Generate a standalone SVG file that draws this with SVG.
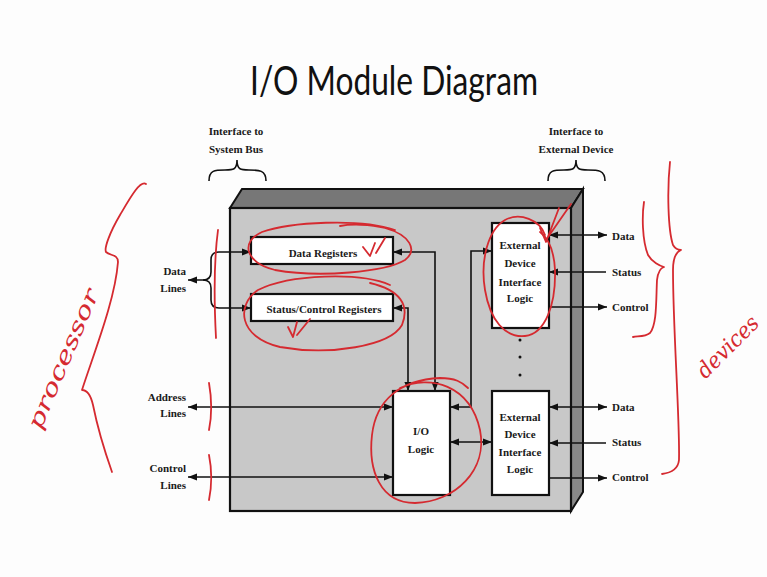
<svg xmlns="http://www.w3.org/2000/svg" width="767" height="577" viewBox="0 0 767 577">
  <defs>
    <marker id="arrow" viewBox="0 0 10 8" refX="10" refY="4" markerWidth="9" markerHeight="8" markerUnits="userSpaceOnUse" orient="auto-start-reverse">
      <path d="M0,0 L10,4 L0,8 z" fill="#111"/>
    </marker>
    <style>
      .lbl { font-family: "Liberation Serif", "Times New Roman", serif; font-weight: bold; font-size: 11px; fill: #1a1a1a; }
      .mid { text-anchor: middle; }
      .end { text-anchor: end; }
      .box { fill: #ffffff; stroke: #111; stroke-width: 2.2; }
      .wire { fill: none; stroke: #111; stroke-width: 1.6; }
      .arr { marker-end: url(#arrow); }
      .arr2 { marker-start: url(#arrow); marker-end: url(#arrow); }
      .brace { fill: none; stroke: #111; stroke-width: 1.6; }
      .pen { fill: none; stroke: #d52a30; stroke-width: 1.8; stroke-linecap: round; stroke-linejoin: round; }
      .hand { font-family: "DejaVu Serif", "Liberation Serif", serif; font-style: italic; fill: #d52a30; }
    </style>
  </defs>

  <rect x="0" y="0" width="767" height="577" fill="#fdfdfd"/>

  <!-- title -->
  <text x="394" y="95" text-anchor="middle" font-family="Lato, 'Open Sans', sans-serif" font-size="41" fill="#111" textLength="288" lengthAdjust="spacingAndGlyphs">I/O Module Diagram</text>

  <!-- interface captions with braces -->
  <g id="sysbus-caption">
    <text class="lbl mid" x="236" y="135">Interface to</text>
    <text class="lbl mid" x="236" y="153">System Bus</text>
    <path class="brace" d="M209,181 C209,170 215,170 225,170 C233,170 237,170 237,160 C237,170 241,170 249,170 C259,170 266,170 266,181"/>
  </g>
  <g id="extdev-caption">
    <text class="lbl mid" x="576" y="135">Interface to</text>
    <text class="lbl mid" x="576" y="153">External Device</text>
    <path class="brace" d="M548,181 C548,170 554,170 564,170 C572,170 576,170 576,160 C576,170 580,170 588,170 C598,170 605,170 605,181"/>
  </g>

  <!-- module housing (3-D box) -->
  <g id="module">
    <polygon points="230,208 242,189 583,189 571,208" fill="#777" stroke="#111" stroke-width="2"/>
    <polygon points="571,208 583,189 583,492 571,511" fill="#888" stroke="#111" stroke-width="2"/>
    <rect x="230" y="208" width="341" height="303" fill="#c8c8c8" stroke="#111" stroke-width="2.2"/>
  </g>

  <!-- connectors -->
  <g id="connectors">
    <!-- data lines fork -->
    <path class="wire" d="M251,252 H219 Q211,252 211,260 V272 Q211,280 203,280 H188" marker-start="url(#arrow)" marker-end="url(#arrow)"/>
    <path class="wire" d="M251,308 H219 Q211,308 211,300 V288 Q211,280 203,280" marker-start="url(#arrow)"/>
    <!-- registers to I/O logic -->
    <path class="wire arr2" d="M393,252 H435 V391"/>
    <path class="wire arr2" d="M393,308 H408 V391"/>
    <!-- address and control lines -->
    <path class="wire arr2" d="M188,407 H393"/>
    <path class="wire arr2" d="M188,477 H393"/>
    <!-- I/O logic to device interfaces -->
    <path class="wire arr2" d="M450,407 H471 V251 H492"/>
    <path class="wire arr2" d="M450,442 H492"/>
    <!-- device 1 external signals -->
    <path class="wire arr2" d="M549,235 H607"/>
    <path class="wire arr" d="M606,272 H549"/>
    <path class="wire arr" d="M549,307 H607"/>
    <!-- device 2 external signals -->
    <path class="wire arr2" d="M549,407 H607"/>
    <path class="wire arr" d="M606,443 H549"/>
    <path class="wire arr" d="M549,478 H607"/>
  </g>

  <g id="data-registers">
    <rect class="box" x="251" y="237" width="142" height="27"/>
    <text class="lbl mid" x="323" y="257">Data Registers</text>
  </g>
  <g id="status-control-registers">
    <rect class="box" x="251" y="294" width="142" height="27"/>
    <text class="lbl mid" x="324" y="313">Status/Control Registers</text>
  </g>
  <g id="io-logic">
    <rect class="box" x="393" y="391" width="57" height="104"/>
    <text class="lbl mid" x="421" y="435">I/O</text>
    <text class="lbl mid" x="421" y="453">Logic</text>
  </g>
  <g id="ext-device-1">
    <rect class="box" x="492" y="223" width="57" height="105"/>
    <text class="lbl mid" x="520" y="249">External</text>
    <text class="lbl mid" x="520" y="267">Device</text>
    <text class="lbl mid" x="520" y="286">Interface</text>
    <text class="lbl mid" x="520" y="302">Logic</text>
  </g>
  <g id="ext-device-2">
    <rect class="box" x="492" y="391" width="57" height="104"/>
    <text class="lbl mid" x="520" y="421">External</text>
    <text class="lbl mid" x="520" y="438">Device</text>
    <text class="lbl mid" x="520" y="456">Interface</text>
    <text class="lbl mid" x="520" y="473">Logic</text>
  </g>
  <g id="ellipsis">
    <circle cx="520" cy="340" r="1.5" fill="#111"/>
    <circle cx="520" cy="357" r="1.5" fill="#111"/>
    <circle cx="520" cy="375" r="1.5" fill="#111"/>
  </g>

  <!-- bus-side labels -->
  <g id="bus-labels">
    <text class="lbl end" x="186" y="275">Data</text>
    <text class="lbl end" x="186" y="292">Lines</text>
    <text class="lbl end" x="186" y="401">Address</text>
    <text class="lbl end" x="186" y="417">Lines</text>
    <text class="lbl end" x="186" y="472">Control</text>
    <text class="lbl end" x="186" y="489">Lines</text>
  </g>
  <!-- device-side labels -->
  <g id="device-labels">
    <text class="lbl" x="612" y="240">Data</text>
    <text class="lbl" x="612" y="276">Status</text>
    <text class="lbl" x="612" y="311">Control</text>
    <text class="lbl" x="612" y="411">Data</text>
    <text class="lbl" x="612" y="446">Status</text>
    <text class="lbl" x="612" y="481">Control</text>
  </g>

  <!-- red pen notes -->
  <g id="pen-notes">
    <path class="pen" d="M395,230 C360,218 290,222 262,232 C240,242 245,262 275,270 C320,278 385,272 405,260 C418,250 410,235 385,228 C370,224 350,224 340,226"/>
    <path class="pen" d="M363,247 L370,256 L375,243 M376,253 L385,238"/>
    <path class="pen" d="M390,285 C360,272 290,274 258,290 C236,305 238,337 280,347 C330,356 390,346 402,325 C410,305 400,290 370,283"/>
    <path class="pen" d="M288,327 L293,337 L297,322 M297,335 L310,319"/>
    <path class="pen" d="M400,388 C430,374 470,385 480,430 C488,470 455,502 415,503 C380,503 368,470 372,435 C376,400 400,380 440,378 C455,378 462,382 468,388"/>
    <path class="pen" d="M545,235 C540,220 520,212 505,220 C488,230 480,260 485,290 C490,320 505,338 525,336 C545,334 556,305 555,270 C554,250 548,238 540,232"/>
    <path class="pen" d="M540,228 L546,242 L559,208 M546,240 L571,204"/>
    <path class="pen" d="M218,230 C214,260 214,300 216,338"/>
    <path class="pen" d="M209,383 C212,400 212,415 209,430"/>
    <path class="pen" d="M209,455 C212,470 212,485 209,500"/>
    <path class="pen" d="M146,184 C140,180 130,198 120,215 C110,232 104,248 106,252 C110,256 118,254 118,262 C115,300 95,350 82,390 C86,390 90,392 93,405 C98,430 106,455 112,472"/>
    <path class="pen" d="M644,202 C642,215 642,240 648,255 C652,262 660,266 664,267 C660,268 658,272 657,280 C656,300 657,325 650,333 C645,337 638,336 633,337"/>
    <path class="pen" d="M670,162 C667,190 668,230 673,245 C676,250 680,250 681,250 C676,252 673,258 673,270 C673,330 680,420 679,460 C678,470 670,473 662,474"/>
    <text class="hand" x="0" y="0" font-size="22" text-anchor="middle" textLength="150" lengthAdjust="spacingAndGlyphs" transform="translate(70,362) rotate(-67)">processor</text>
    <text class="hand" x="0" y="0" font-size="22" text-anchor="middle" textLength="78" lengthAdjust="spacingAndGlyphs" transform="translate(733,352) rotate(-45)">devices</text>
  </g>
</svg>
